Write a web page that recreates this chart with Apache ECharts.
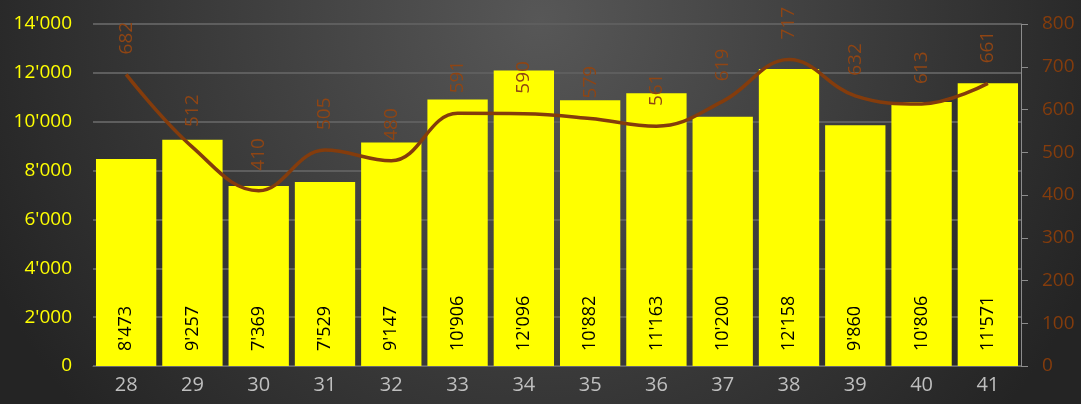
<!DOCTYPE html>
<html>
<head>
<meta charset="utf-8">
<script src="https://cdn.jsdelivr.net/npm/echarts@6/dist/echarts.min.js"></script>
<style>
  html, body { margin: 0; padding: 0; }
  #chart { width: 1081px; height: 404px; }
</style>
</head>
<body>
<div id="chart"></div>
<script>
var weeks = ['28', '29', '30', '31', '32', '33', '34', '35', '36', '37', '38', '39', '40', '41'];
var barValues = [8473, 9257, 7369, 7529, 9147, 10906, 12096, 10882, 11163, 10200, 12158, 9860, 10806, 11571];
var lineValues = [682, 512, 410, 505, 480, 591, 590, 579, 561, 619, 717, 632, 613, 661];

function fmt(v) {
    // 12000 -> 12'000
    return String(v).replace(/\B(?=(\d{3})+(?!\d))/g, "'");
}

var myChart = echarts.init(document.getElementById('chart'));

var option = {
    backgroundColor: {
        type: 'radial', x: 0.5, y: 0.05, r: 1.5,
        colorStops: [
            {offset: 0, color: '#575757'},
            {offset: 1, color: '#242424'}
        ]
    },
    textStyle: { fontFamily: 'Open Sans' },
    animation: false,
    grid: { left: 93, right: 60, top: 24, bottom: 38, outerBoundsMode: 'none', containLabel: false },
    xAxis: {
        type: 'category',
        data: weeks,
        axisLine: { lineStyle: { color: '#6a6a6a', width: 1 } },
        axisTick: { show: false },
        axisLabel: { color: '#bfbfbf', fontSize: 20, margin: 9, fontFamily: 'Open Sans' }
    },
    yAxis: [
        {
            type: 'value', min: 0, max: 14000, interval: 2000,
            axisLine: { show: false },
            axisTick: { show: false },
            splitLine: { lineStyle: { color: '#5e5e5e', width: 2 } },
            axisLabel: { color: '#ffff00', fontSize: 19, margin: 21, fontFamily: 'Open Sans', formatter: fmt }
        },
        {
            type: 'value', min: 0, max: 800, interval: 100,
            position: 'right',
            axisLine: { show: true, lineStyle: { color: '#8c8c8c' } },
            axisTick: { show: true, length: 7, lineStyle: { color: '#8c8c8c' } },
            splitLine: { show: false },
            axisLabel: { color: '#843c0c', fontSize: 19, margin: 21, fontFamily: 'Open Sans' }
        }
    ],
    series: [
        {
            type: 'bar',
            data: barValues,
            barCategoryGap: '9%',
            itemStyle: { color: '#ffff00' },
            label: {
                show: true,
                position: 'insideBottom',
                rotate: 90,
                align: 'left',
                verticalAlign: 'middle',
                distance: 15,
                color: '#000',
                fontSize: 18,
                fontFamily: 'Open Sans',
                formatter: function (p) { return fmt(p.value); }
            }
        },
        {
            type: 'line',
            yAxisIndex: 1,
            data: lineValues,
            smooth: 0.4,
            symbol: 'circle',
            symbolSize: 0.1,
            showSymbol: true,
            itemStyle: { color: '#843c0c' },
            lineStyle: { color: '#843c0c', width: 3.5 },
            label: {
                show: true,
                position: 'top',
                rotate: 90,
                align: 'left',
                verticalAlign: 'middle',
                distance: 20,
                color: '#8f4514',
                fontSize: 19,
                fontFamily: 'Open Sans'
            }
        }
    ]
};

myChart.setOption(option);
</script>
</body>
</html>
